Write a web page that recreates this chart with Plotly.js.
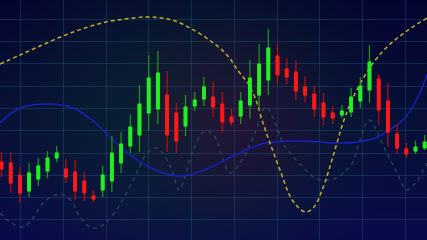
<!DOCTYPE html>
<html><head><meta charset="utf-8">
<script src="https://cdn.plot.ly/plotly-3.0.1.min.js"></script>
<style>html,body{margin:0;padding:0;background:#06073a;overflow:hidden}#chart{width:427px;height:240px}</style>
</head><body><div id="chart"></div>
<script>
// Candle data (price units)
const open  = [78,77,65,49,61,69,82,71,68,59,44,50,59,77,94,105,127,131,145,127,114,134,141,143,136,123,124,135,145,160,184,171,168,153,146,137,127,125,128,139,150,161,139,106,91,89,92];
const high  = [88,88,73,77,82,89,94,81,80,68,50,74,104,108,125,155,185,189,169,137,145,148,163,158,148,131,148,180,196,211,196,182,180,163,154,147,134,135,152,163,195,166,157,116,97,99,105];
const low   = [63,47,37,43,54,62,78,57,40,39,38,43,48,67,87,88,110,116,88,87,104,129,134,123,108,114,116,121,131,145,156,156,140,138,123,115,116,122,123,132,137,115,93,86,82,86,90];
const close = [71,57,47,67,74,82,87,63,49,47,41,65,87,96,113,136,162,167,105,99,133,140,153,133,118,118,139,162,176,192,165,163,149,145,131,123,122,129,143,154,178,130,108,92,86,93,98];
const session = open.map((_, i) => i);

// Indicator curves (time position 0..427, price units)
const yellowT = [0,20,40,63,85,106,125,145,162,175,192,212,227,239,249,257,262,270,280,291,299,306,314,324,334,344,352,367,384,404,427];
const yellowP = [176,185,194,204,212,218,221,223,222,219,211,198,185,168,155,137,120,97,70,42,32,28,33,55,87,120,140,168,190,207,222];
const blueT = [0,20,50,73,92,110,133,155,182,209,235,262,301,336,358,378,391,405,418,427];
const blueP = [117,132,136,132,120,103,83,70,64,72,85,96,99,97,98,103,111,122,143,165];
const grayT = [0,10,23,33,43,55,63,72,80,92,103,115,128,138,147,157,165,172,179,185,192,205,215,222,230,242,255,266,276,284,301,317,334,351,360,369,384,397,407,417,427];
const grayP = [27,18,13,22,37,45,45,38,23,12,15,28,50,70,87,92,83,70,50,63,87,109,103,83,67,80,107,133,115,95,75,61,61,75,100,120,93,67,50,59,77];

function makeBg(){
  const c=document.createElement('canvas'); c.width=427; c.height=240;
  const g=c.getContext('2d');
  let lg=g.createLinearGradient(0,0,0,240);
  lg.addColorStop(0,'#040430'); lg.addColorStop(0.5,'#071036'); lg.addColorStop(1,'#090a48');
  g.fillStyle=lg; g.fillRect(0,0,427,240);
  let r=g.createRadialGradient(190,110,0,190,110,210);
  r.addColorStop(0,'rgba(14,50,44,0.6)'); r.addColorStop(1,'rgba(14,50,44,0)');
  g.fillStyle=r; g.fillRect(0,0,427,240);
  r=g.createRadialGradient(235,120,0,235,120,110);
  r.addColorStop(0,'rgba(55,8,55,0.55)'); r.addColorStop(1,'rgba(55,8,55,0)');
  g.fillStyle=r; g.fillRect(0,0,427,240);
  return c.toDataURL();
}

const gridColor='rgba(55,115,150,0.28)';
const traces = [
  {type:'candlestick', x:session, open:open, high:high, low:low, close:close, xaxis:'x2', yaxis:'y',
   increasing:{line:{color:'#1a9a1a', width:1.2}, fillcolor:'#22f022'},
   decreasing:{line:{color:'#b81010', width:1.2}, fillcolor:'#ff1a1a'},
   whiskerwidth:0, hoverinfo:'skip', showlegend:false},
  {type:'candlestick', x:session, open:open, close:close,
   high:open.map((o,i)=>Math.max(o,close[i])), low:open.map((o,i)=>Math.min(o,close[i])),
   xaxis:'x2', yaxis:'y',
   increasing:{line:{color:'#22f022', width:1}, fillcolor:'#22f022'},
   decreasing:{line:{color:'#ff1a1a', width:1}, fillcolor:'#ff1a1a'},
   whiskerwidth:0, hoverinfo:'skip', showlegend:false},
  {type:'scatter', mode:'lines', x:grayT, y:grayP, line:{color:'#28485e', width:1.3, dash:'4px,4px', shape:'spline', smoothing:1}, hoverinfo:'skip', showlegend:false},
  {type:'scatter', mode:'lines', x:blueT, y:blueP, line:{color:'#1a20c0', width:1.4, shape:'spline', smoothing:1}, hoverinfo:'skip', showlegend:false},
  {type:'scatter', mode:'lines', x:yellowT, y:yellowP, line:{color:'#c0ae26', width:1.5, dash:'4px,3px', shape:'spline', smoothing:1}, hoverinfo:'skip', showlegend:false}
];
const layout = {
  width:427, height:240, margin:{l:0,r:0,t:0,b:0,pad:0},
  paper_bgcolor:'#06073a', plot_bgcolor:'rgba(0,0,0,0)',
  boxgap:0.57, boxgroupgap:0.3, boxmode:'overlay',
  xaxis:{range:[0,427], showgrid:true, gridcolor:gridColor, gridwidth:1, tick0:20.7, dtick:42.75, tickmode:'linear',
         showticklabels:false, zeroline:false, showline:false, ticks:'', fixedrange:true, rangeslider:{visible:false}},
  xaxis2:{range:[-0.163,46.25], overlaying:'x', showgrid:false, visible:false, zeroline:false, rangeslider:{visible:false}, fixedrange:true},
  yaxis:{range:[0,240], showgrid:true, gridcolor:gridColor, gridwidth:1, tick0:20.1, dtick:22.3, tickmode:'linear',
         showticklabels:false, zeroline:false, showline:false, ticks:'', fixedrange:true},
  images:[{source:makeBg(), xref:'paper', yref:'paper', x:0, y:1, sizex:1, sizey:1, sizing:'stretch', layer:'below', xanchor:'left', yanchor:'top'}],
  showlegend:false, hovermode:false
};
Plotly.newPlot('chart', traces, layout, {staticPlot:true, displayModeBar:false});
</script></body></html>
